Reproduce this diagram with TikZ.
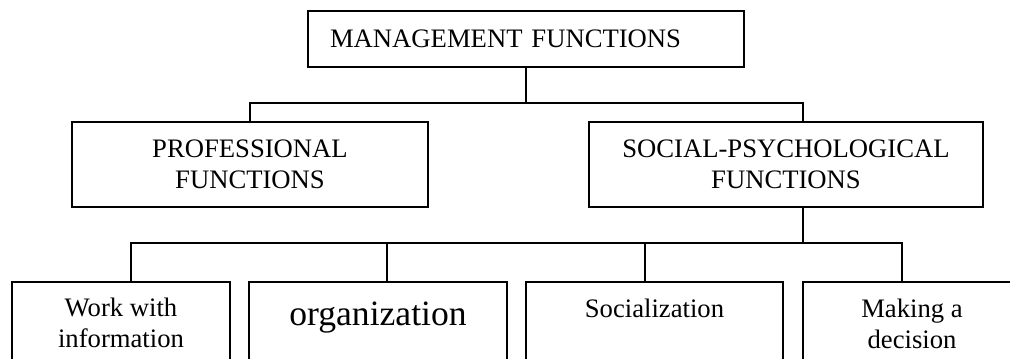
\documentclass[tikz,border=0pt]{standalone}
\usepackage{fontspec}
\setmainfont{Liberation Serif}
\begin{document}
\begin{tikzpicture}[x=0.75pt, y=-0.75pt,
		box/.style = {draw, line width=1.8pt, inner sep=0pt},
		txt/.style = {font=\fontsize{20}{23}\selectfont, align=center, inner sep=0pt},
		link/.style = {line width=1.5pt}]
		\useasboundingbox (0,0) rectangle (1010,359);
		\clip (0,0) rectangle (1010,359);
		\node[box, txt, align=left, text width=294pt, inner xsep=16.5pt, minimum height=42pt] (mgmt) at (526,39) {MANAGEMENT FUNCTIONS};
		\node[box, txt, minimum width=267pt, minimum height=63.75pt] (prof) at (250,164.5) {PROFESSIONAL\\FUNCTIONS};
		\node[box, txt, minimum width=295.5pt, minimum height=63.75pt] (soc) at (786,164.5) {SOCIAL-PSYCHOLOGICAL\\FUNCTIONS};
		\node[box, anchor=north, minimum width=163.5pt, minimum height=75pt] (work) at (121,281) {};
		\node[box, anchor=north, minimum width=193.5pt, minimum height=75pt] (org) at (378,281) {};
		\node[box, anchor=north, minimum width=192.75pt, minimum height=75pt] (socz) at (654.5,281) {};
		\node[box, anchor=north, minimum width=163.5pt, minimum height=75pt] (dec) at (912,281) {};
		\node[txt, anchor=north, yshift=-12.75pt] (workt) at (work.north) {Work with\\information};
		\node[txt, anchor=north, yshift=-15.75pt, font=\fontsize{26.7}{30}\selectfont] (orgt) at (org.north) {organization};
		\node[txt, anchor=north, yshift=-13.5pt] (sozt) at (socz.north) {Socialization};
		\node[txt, anchor=north, yshift=-13.5pt] (dect) at (dec.north) {Making a\\decision};
		\coordinate (bus1) at (526,103);
		\coordinate (bus2) at (803,243);
		\draw[link] (mgmt.south) -- (bus1);
		\draw[link] (prof.north) |- (bus1) -| ([xshift=12.75pt]soc.north);
		\draw[link] ([xshift=12.75pt]soc.south) -- (bus2);
		\draw[link] ([xshift=7.5pt]work.north) |- (bus2) -| ([xshift=-7.5pt]dec.north);
		\draw[link] ([xshift=6.75pt]org.north) -- ([xshift=6.75pt]org.north |- bus2);
		\draw[link] ([xshift=-7pt]socz.north) -- ([xshift=-7pt]socz.north |- bus2);
	\end{tikzpicture}
\end{document}
